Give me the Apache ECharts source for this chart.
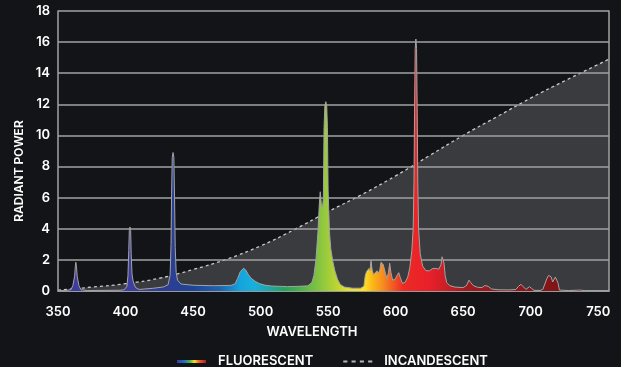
<!DOCTYPE html>
<html>
<head>
<meta charset="utf-8">
<script src="https://cdn.jsdelivr.net/npm/echarts@6/dist/echarts.min.js"></script>
<style>
  html, body { margin: 0; padding: 0; background: #131417; }
  #chart { width: 621px; height: 367px; }
</style>
</head>
<body>
<div id="chart"></div>
<script>
// fluorescent lamp spectrum
const fluoWavelength = [
  350, 355, 359.5, 361, 362.3, 362.8, 363.2, 363.7, 364.2, 365.5, 367, 372,
  385, 396, 399, 401, 401.8, 402.4, 402.8, 403.3, 403.8, 404.2, 404.8, 405.5, 406.3, 407.5, 410,
  420, 428, 431.5, 433, 433.7, 434.1, 434.6, 435.2, 435.8, 436.3, 436.8, 437.5, 438.5, 441,
  450, 465, 478, 481, 483, 485, 487.5, 489, 491, 493, 496, 499, 503, 508,
  520, 528, 535, 538, 539.5, 541, 542.5, 543.5, 544.2, 545, 545.8, 546.5,
  547, 547.6, 548.3, 549, 549.5, 550, 551, 552, 553.5, 555, 557, 559, 562,
  568, 574, 576.5, 577.5, 578.5, 579.5, 580.3, 581, 581.8, 582.6, 583.7,
  585, 586.2, 587.3, 588.3, 589.2, 590, 590.8, 591.8, 592.6, 593.6, 594.7,
  595.6, 596.5, 597.8, 599.5, 601, 602.3, 603.5, 605, 607, 609, 610.5, 612,
  613, 613.6, 614, 614.5, 615, 615.5, 616, 616.4, 617, 618.2, 620, 622.5, 625, 627.5, 630, 632,
  633.6, 634.4, 635, 635.8, 636.7, 637.8, 640, 644, 650, 652.5, 654.3, 655.5,
  657.5, 660.5, 664, 666, 667.2, 668.5, 671, 676, 684, 689, 691, 692.8,
  694.5, 696.5, 697.8, 699, 700.5, 702.5, 707, 709, 710.5, 712, 713.3, 714.3,
  715.2, 716.3, 717.2, 718.3, 719.5, 720.3, 721.3, 728, 734, 736, 740, 758
];
const fluoPower = [
  0.02, 0.03, 0.08, 0.35, 0.95, 1.55, 1.85, 1.55, 0.95, 0.35, 0.08, 0.03,
  0.04, 0.05, 0.08, 0.3, 1.0, 2.6, 3.9, 4.12, 3.9, 2.4, 1.1, 0.7, 0.45, 0.22, 0.1,
  0.17, 0.26, 0.4, 1.0, 3.0, 6.2, 8.6, 8.9, 8.6, 6.0, 2.8, 1.2, 0.7, 0.45,
  0.37, 0.34, 0.36, 0.45, 0.8, 1.25, 1.46, 1.35, 1.05, 0.82, 0.62, 0.48, 0.38, 0.32,
  0.28, 0.3, 0.33, 0.55, 1.0, 2.0, 3.8, 5.6, 6.38, 5.6, 5.3, 6.0,
  10.5, 11.9, 12.17, 11.9, 10.5, 6.5, 3.8, 2.7, 1.9, 1.3, 0.75, 0.42, 0.26,
  0.18, 0.18, 0.3, 1.0, 1.25, 1.2, 1.45, 1.3, 1.95, 1.35, 1.05,
  1.15, 1.3, 1.15, 1.35, 1.85, 1.95, 1.7, 1.65, 1.1, 0.8, 1.2,
  1.78, 1.2, 0.7, 0.75, 1.0, 1.18, 0.85, 0.5, 0.55, 0.9, 1.5, 2.6,
  4.0, 7.0, 11.5, 15.6, 16.2, 15.6, 11.5, 7.0, 4.0, 2.4, 1.6, 1.3, 1.3, 1.45, 1.45, 1.4,
  1.7, 2.2, 2.32, 1.8, 1.0, 0.55, 0.35, 0.25, 0.22, 0.35, 0.7, 0.55,
  0.35, 0.24, 0.22, 0.35, 0.45, 0.3, 0.13, 0.08, 0.07, 0.1, 0.3, 0.43,
  0.28, 0.1, 0.2, 0.28, 0.18, 0.04, 0.04, 0.1, 0.45, 0.8, 1.0, 1.12,
  0.9, 0.58, 0.65, 0.9, 0.86, 0.5, 0.06, 0.03, 0.05, 0.06, 0.03, 0.02
];

// incandescent (blackbody-ish) curve
const incWavelength = [350, 375, 400, 425, 450, 475, 500, 525, 550, 575, 600, 625, 650, 675, 700, 725, 758];
const incPower = [0.05, 0.25, 0.47, 0.82, 1.38, 2.05, 2.9, 3.95, 5.1, 6.2, 7.4, 8.7, 10.0, 11.2, 12.4, 13.5, 14.9];

const seriesNames = ["FLUORESCENT", "INCANDESCENT"];

const chart = echarts.init(document.getElementById("chart"));

const spectrum = new echarts.graphic.LinearGradient(0, 0, 1, 0, [
  { offset: 0, color: "#3d3a9c" },
  { offset: 0.1225, color: "#3f3fa0" },
  { offset: 0.196, color: "#2d3d94" },
  { offset: 0.245, color: "#1f4596" },
  { offset: 0.294, color: "#1f64b0" },
  { offset: 0.331, color: "#14a4de" },
  { offset: 0.355, color: "#17b0dc" },
  { offset: 0.38, color: "#1aaab0" },
  { offset: 0.412, color: "#1fa657" },
  { offset: 0.441, color: "#4cb447" },
  { offset: 0.478, color: "#8cc63f" },
  { offset: 0.502, color: "#b5d334" },
  { offset: 0.527, color: "#e3e12a" },
  { offset: 0.556, color: "#fde121" },
  { offset: 0.569, color: "#fbbc16" },
  { offset: 0.588, color: "#f7901e" },
  { offset: 0.608, color: "#f15a24" },
  { offset: 0.627, color: "#ed2a24" },
  { offset: 0.674, color: "#e8202a" },
  { offset: 0.711, color: "#c41e25" },
  { offset: 0.74, color: "#a01b20" },
  { offset: 0.858, color: "#8a1619" },
  { offset: 1, color: "#6e1215" }
]);

const rainbow = new echarts.graphic.LinearGradient(0, 0, 1, 0, [
  { offset: 0, color: "#3b3a9e" },
  { offset: 0.25, color: "#1f6fbf" },
  { offset: 0.45, color: "#4cb447" },
  { offset: 0.6, color: "#f5e12a" },
  { offset: 0.75, color: "#f26522" },
  { offset: 1, color: "#b01c22" }
]);

const font = "Inter, 'Open Sans', sans-serif";
const gridColor = "#a2a2a2";

const option = {
  backgroundColor: "#131417",
  animation: false,
  grid: { left: 58, right: 12, top: 11, bottom: 76 },
  legend: {
    left: 172,
    top: 350,
    itemWidth: 29,
    itemHeight: 3,
    itemGap: 30,
    textStyle: { color: "#fff", fontSize: 13, fontWeight: 600, fontFamily: font, padding: [0, 0, 0, 7] },
    data: [
      { name: seriesNames[0], icon: "rect", itemStyle: { color: rainbow, borderWidth: 0 } },
      {
        name: seriesNames[1],
        icon: "path://M0 0h4v2H0zM8 0h4v2H8zM16 0h4v2h-4zM24 0h4v2h-4z",
        itemStyle: { color: "#b5b5b5", borderWidth: 0 }
      }
    ]
  },
  xAxis: {
    type: "value",
    min: 350,
    max: 758,
    interval: 50,
    z: 1,
    name: "WAVELENGTH",
    nameLocation: "middle",
    nameGap: 35,
    nameTextStyle: { color: "#fff", fontSize: 13, fontWeight: 600, fontFamily: font, padding: [0, 43, 0, 0] },
    axisLine: { show: true, lineStyle: { color: gridColor, width: 1.5 } },
    axisTick: { show: false },
    splitLine: { show: false },
    axisLabel: { color: "#fff", fontSize: 13, fontWeight: 600, fontFamily: font, margin: 15, showMaxLabel: false }
  },
  yAxis: [
    {
      type: "value",
      min: 0,
      max: 18,
      interval: 2,
      z: 1,
      name: "RADIANT POWER",
      nameLocation: "middle",
      nameGap: 22,
      nameTextStyle: { color: "#fff", fontSize: 12, fontWeight: 600, fontFamily: font, padding: [0, 40, 0, 0] },
      axisLine: { show: true, lineStyle: { color: gridColor, width: 1.5 } },
      axisTick: { show: false },
      splitLine: { show: true, lineStyle: { color: gridColor, width: 1.5 } },
      axisLabel: { color: "#fff", fontSize: 13, fontWeight: 600, fontFamily: font, margin: 8 }
    },
    {
      // right border of the plot
      type: "value",
      min: 0,
      max: 18,
      position: "right",
      z: 1,
      axisLine: { show: true, lineStyle: { color: gridColor, width: 1.5 } },
      axisTick: { show: false },
      axisLabel: { show: false },
      splitLine: { show: false }
    }
  ],
  series: [
    {
      name: seriesNames[1],
      type: "line",
      z: 0,
      smooth: true,
      symbol: "none",
      data: incWavelength.map((w, i) => [w, incPower[i]]),
      lineStyle: { color: "#c9c9c9", width: 1.3, type: [3, 3] },
      areaStyle: { color: "#3a3b3f", opacity: 1 },
      itemStyle: { color: "#b5b5b5" }
    },
    {
      name: seriesNames[0],
      type: "line",
      z: 3,
      symbol: "none",
      sampling: null,
      data: fluoWavelength.map((w, i) => [w, fluoPower[i]]),
      lineStyle: { color: "#a3a3a3", width: 1 },
      areaStyle: { color: spectrum, opacity: 1 },
      itemStyle: { color: rainbow }
    }
  ]
};

chart.setOption(option);
</script>
</body>
</html>
